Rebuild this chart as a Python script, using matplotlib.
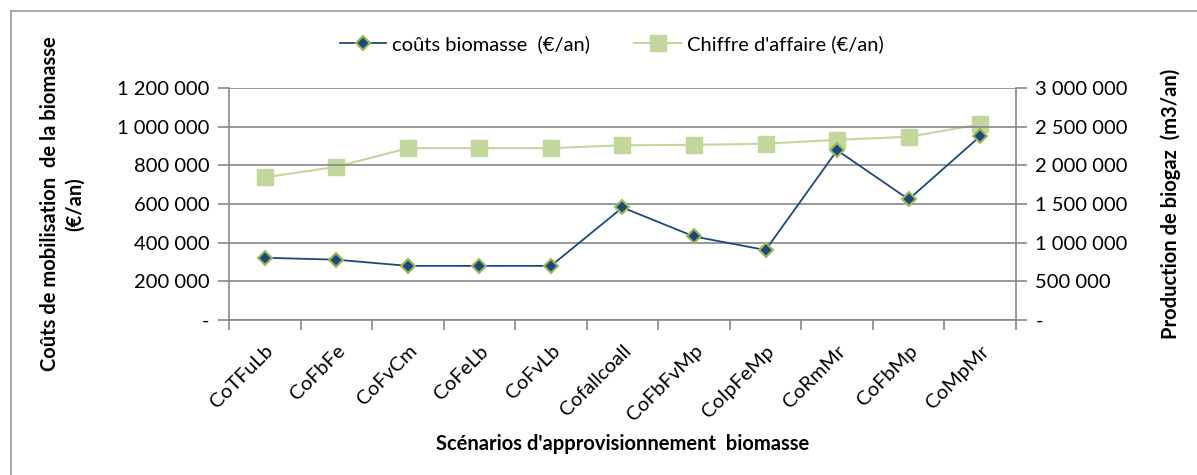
import matplotlib.pyplot as plt
from matplotlib.lines import Line2D
from matplotlib.ticker import FuncFormatter

plt.rcParams['font.family'] = ['Lato', 'DejaVu Sans']

scenarios = ['CoTFuLb', 'CoFbFe', 'CoFvCm', 'CoFeLb', 'CoFvLb', 'Cofallcoall',
             'CoFbFvMp', 'CoIpFeMp', 'CoRmMr', 'CoFbMp', 'CoMpMr']
couts = [322000, 312000, 280000, 280000, 280000, 582000,
         432000, 362000, 878000, 624000, 951000]
chiffre = [1844000, 1981000, 2222000, 2222000, 2222000, 2260000,
           2265000, 2280000, 2330000, 2370000, 2530000]


def fmt(v, pos):
    if v == 0:
        return '-'
    return '{:,.0f}'.format(v).replace(',', ' ')


fig = plt.figure(figsize=(11.97, 4.75), dpi=100)
ax = fig.add_axes([0.1913, 0.3263, 0.8488 - 0.1913, 0.8147 - 0.3263])
ax2 = ax.twinx()

x = list(range(len(scenarios)))
l1, = ax.plot(x, couts, color='#1F497D', lw=1.3, marker='D', ms=7,
              mfc='#1F497D', mec='#9BBB59', mew=1.5, zorder=4,
              label='coûts biomasse  (€/an)')
l2, = ax2.plot(x, chiffre, color='#C3D69B', lw=1.5, marker='s', ms=11,
               mfc='#C3D69B', mec='#C3D69B', zorder=3,
               label="Chiffre d'affaire (€/an)")
ax.set_zorder(ax2.get_zorder() + 1)
ax.patch.set_visible(False)

ax.set_xlim(-0.5, len(scenarios) - 0.5)
ax.set_ylim(0, 1200000)
ax2.set_ylim(0, 3000000)
ax.set_yticks(range(0, 1200001, 200000))
ax2.set_yticks(range(0, 3000001, 500000))
ax.yaxis.set_major_formatter(FuncFormatter(fmt))
ax2.yaxis.set_major_formatter(FuncFormatter(fmt))

# category ticks between points, labels at points
ax.set_xticks([i - 0.5 for i in range(len(scenarios) + 1)])
ax.set_xticklabels([])
ax.set_xticks(x, minor=True)
ax.set_xticklabels(scenarios, minor=True, rotation=45, ha='right',
                   rotation_mode='anchor', fontsize=14.5)
ax.tick_params(axis='x', which='minor', length=0, pad=16)
ax.tick_params(axis='x', which='major', length=7, color='#888888', width=1.2)

ax.grid(axis='y', color='#888888', lw=1.2)
ax.tick_params(axis='y', length=8, color='#888888', width=1.2, labelsize=14.5, pad=6)
ax2.tick_params(axis='y', length=8, color='#888888', width=1.2, labelsize=14.5, pad=6)
for a in (ax, ax2):
    for s in a.spines.values():
        s.set_visible(False)
ax.spines['left'].set_visible(True)
ax.spines['left'].set_color('#888888')
ax.spines['bottom'].set_visible(True)
ax.spines['bottom'].set_color('#888888')
ax2.spines['right'].set_visible(True)
ax2.spines['right'].set_color('#888888')
for s in ('left', 'bottom'):
    ax.spines[s].set_linewidth(1.2)
ax2.spines['right'].set_linewidth(1.2)

ax.set_ylabel('Coûts de mobilisation  de la biomasse\n(€/an)',
              fontsize=14.5, fontweight='bold', linespacing=1.3)
ax2.set_ylabel('Production de biogaz  (m3/an)', fontsize=14.5,
               fontweight='bold')
ax.set_xlabel("Scénarios d'approvisionnement  biomasse", fontsize=14.5,
              fontweight='bold')
ax.yaxis.set_label_coords(-0.183, 0.5)
ax2.yaxis.set_label_coords(1.184, 0.5)
ax.xaxis.set_label_coords(0.5, -0.49)

fig.legend([l1, l2], [l1.get_label(), l2.get_label()], loc='center',
           bbox_to_anchor=(0.511, 0.907), ncol=2, frameon=False,
           fontsize=14.5, columnspacing=2.2, handlelength=2.3,
           handletextpad=0.3)

# outer frame
fig.add_artist(Line2D([0.0092, 0.0092], [0, 0.977], color='#999999', lw=1.2))
fig.add_artist(Line2D([0.0092, 1], [0.977, 0.977], color='#999999', lw=1.2))

fig.savefig('out.png', dpi=100)
